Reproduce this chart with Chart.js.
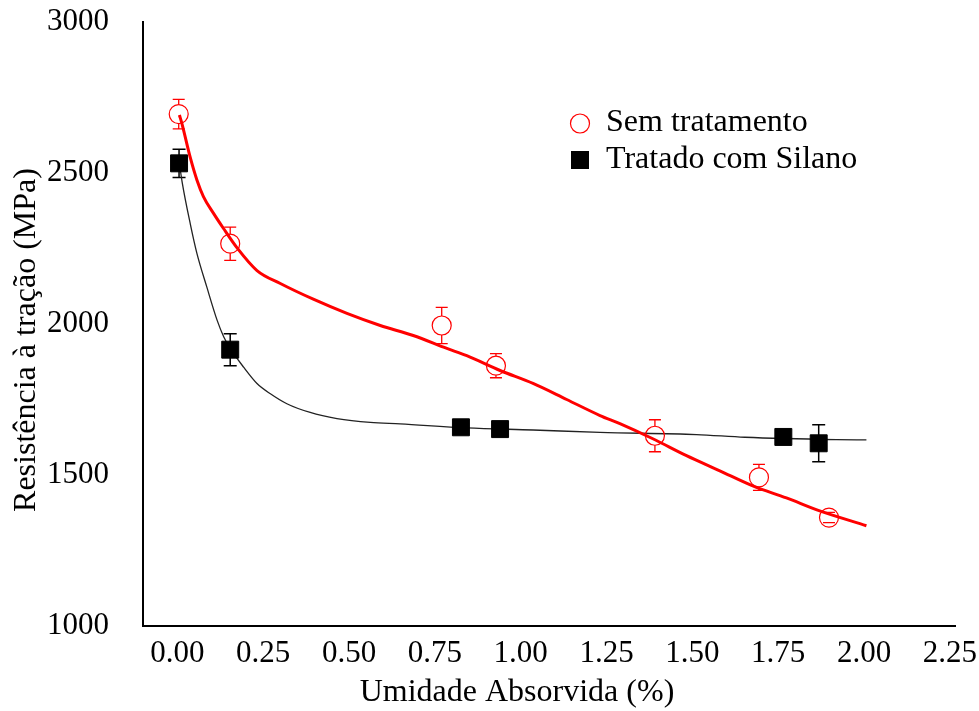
<!DOCTYPE html>
<html>
<head>
<meta charset="utf-8">
<script src="https://cdn.jsdelivr.net/npm/chart.js@4.4.1/dist/chart.umd.min.js"></script>
<style>
html,body{margin:0;padding:0;background:#fff;}
#wrap{width:979px;height:711px;}
</style>
</head>
<body>
<div id="wrap"><canvas id="c" width="979" height="711"></canvas></div>
<script>
// ---- data ----
const xTicks = [0, 0.25, 0.5, 0.75, 1.0, 1.25, 1.5, 1.75, 2.0, 2.25];
const yTicks = [1000, 1500, 2000, 2500, 3000];
const seriesNames = ['Sem tratamento', 'Tratado com Silano'];
const xTitle = 'Umidade Absorvida (%)';
const yTitle = 'Resistência à tração (MPa)';

// Sem tratamento (open red circles)
const semX   = [0.004, 0.154, 0.770, 0.928, 1.391, 1.694, 1.898];
const semY   = [2695, 2266, 1995, 1862, 1630, 1492, 1359];
const semErr = [49, 55, 60, 40, 53, 43, 17];

// Tratado com Silano (black squares)
const silX   = [0.005, 0.154, 0.826, 0.940, 1.765, 1.868];
const silY   = [2532, 1915, 1658, 1652, 1626, 1605];
const silErr = [47, 53, 15, 15, 15, 61];

// fitted trend curves
const semFitX = [0.006, 0.013, 0.037, 0.057, 0.076, 0.105, 0.134, 0.174, 0.232, 0.300, 0.396, 0.494, 0.591, 0.687, 0.785, 0.843, 0.940, 1.036, 1.134, 1.231, 1.289, 1.385, 1.483, 1.580, 1.676, 1.774, 1.871, 2.007];
const semFitY = [2692, 2665, 2554, 2477, 2422, 2367, 2317, 2252, 2177, 2134, 2082, 2035, 1995, 1962, 1919, 1895, 1846, 1803, 1750, 1697, 1670, 1620, 1564, 1514, 1464, 1424, 1381, 1332];
const silFitX = [0.006, 0.014, 0.038, 0.057, 0.086, 0.116, 0.135, 0.154, 0.193, 0.232, 0.271, 0.319, 0.387, 0.465, 0.562, 0.649, 0.843, 1.036, 1.231, 1.512, 1.653, 1.920, 2.007];
const silFitY = [2532, 2470, 2330, 2234, 2122, 2012, 1958, 1919, 1857, 1803, 1769, 1736, 1707, 1687, 1674, 1669, 1656, 1649, 1641, 1634, 1625, 1617, 1616];

// ---- chart ----
const FONT = '"Liberation Serif", "Times New Roman", serif';
const RED = '#FF0000';
const BLACK = '#000000';

const pts = (xs, ys) => xs.map((x, i) => ({x: x, y: ys[i]}));

const errorBarPlugin = {
  id: 'errorBars',
  beforeDatasetsDraw(chart, args, opts) {
    const ctx = chart.ctx;
    const xs = chart.scales.x, ys = chart.scales.y;
    opts.sets.forEach(set => {
      const ds = chart.data.datasets[set.dataset];
      ctx.save();
      ctx.strokeStyle = set.color;
      ctx.lineWidth = set.lineWidth;
      ds.data.forEach((p, i) => {
        const e = set.err[i];
        const px = xs.getPixelForValue(p.x);
        const py = ys.getPixelForValue(p.y);
        const top = ys.getPixelForValue(p.y + e);
        const bot = ys.getPixelForValue(p.y - e);
        const r = set.gap;
        ctx.beginPath();
        if (py - top > r) { ctx.moveTo(px, top); ctx.lineTo(px, py - r); }
        if (bot - py > r) { ctx.moveTo(px, py + r); ctx.lineTo(px, bot); }
        ctx.moveTo(px - set.cap / 2, top); ctx.lineTo(px + set.cap / 2, top);
        ctx.moveTo(px - set.cap / 2, bot); ctx.lineTo(px + set.cap / 2, bot);
        ctx.stroke();
      });
      ctx.restore();
    });
  }
};

const titlesPlugin = {
  id: 'axisTitles',
  afterDraw(chart) {
    const ctx = chart.ctx;
    ctx.save();
    ctx.fillStyle = BLACK;
    ctx.font = '32px ' + FONT;
    ctx.textAlign = 'center';
    ctx.textBaseline = 'middle';
    ctx.fillText(xTitle, 517, 693);
    ctx.translate(27, 340);
    ctx.rotate(-Math.PI / 2);
    ctx.fillText(yTitle, 0, 0);
    ctx.restore();
  }
};

const legendPlugin = {
  id: 'customLegend',
  afterDraw(chart) {
    const ctx = chart.ctx;
    const d0 = chart.data.datasets[0], d1 = chart.data.datasets[1];
    ctx.save();
    ctx.strokeStyle = d0.borderColor;
    ctx.lineWidth = d0.borderWidth;
    ctx.beginPath();
    ctx.arc(580, 123.5, 9.5, 0, Math.PI * 2);
    ctx.stroke();
    ctx.fillStyle = d1.backgroundColor;
    ctx.fillRect(571, 151, 18, 18);
    ctx.fillStyle = BLACK;
    ctx.font = '32px ' + FONT;
    ctx.textAlign = 'left';
    ctx.textBaseline = 'alphabetic';
    ctx.fillText(d0.label, 606, 131);
    ctx.fillText(d1.label, 606, 168);
    ctx.restore();
  }
};

new Chart(document.getElementById('c'), {
  type: 'scatter',
  data: {
    datasets: [
      {
        label: seriesNames[0],
        data: pts(semX, semY),
        pointStyle: 'circle',
        pointRadius: 9.5,
        pointHoverRadius: 9.5,
        borderColor: RED,
        backgroundColor: 'rgba(0,0,0,0)',
        borderWidth: 1.2,
        showLine: false,
        order: 0
      },
      {
        label: seriesNames[1],
        data: pts(silX, silY),
        pointStyle: 'rect',
        pointRadius: 12,
        pointHoverRadius: 12,
        borderColor: BLACK,
        backgroundColor: BLACK,
        borderWidth: 1,
        showLine: false,
        order: 0
      },
      {
        label: 'fit-sem',
        data: pts(semFitX, semFitY),
        showLine: true,
        pointRadius: 0,
        borderColor: RED,
        borderWidth: 3,
        cubicInterpolationMode: 'monotone',
        fill: false,
        order: 2
      },
      {
        label: 'fit-silano',
        data: pts(silFitX, silFitY),
        showLine: true,
        pointRadius: 0,
        borderColor: '#222222',
        borderWidth: 1.3,
        cubicInterpolationMode: 'monotone',
        fill: false,
        order: 2
      }
    ]
  },
  options: {
    responsive: false,
    animation: false,
    devicePixelRatio: 1,
    layout: {autoPadding: false, padding: {top: 22, right: 24, left: 0, bottom: 0}},
    plugins: {
      legend: {display: false},
      tooltip: {enabled: false},
      errorBars: {
        sets: [
          {dataset: 0, err: semErr, color: RED, lineWidth: 1.3, cap: 12, gap: 9.5},
          {dataset: 1, err: silErr, color: BLACK, lineWidth: 1.5, cap: 13, gap: 0}
        ]
      }
    },
    scales: {
      x: {
        type: 'linear',
        min: -0.1,
        max: 2.265,
        grid: {display: false},
        border: {display: true, color: BLACK, width: 2},
        afterBuildTicks: s => { s.ticks = xTicks.map(v => ({value: v})); },
        afterFit: s => { s.height = 85; s.paddingLeft = 0; s.paddingRight = 0; },
        ticks: {
          callback: v => Number(v).toFixed(2),
          font: {family: FONT, size: 31},
          color: BLACK,
          padding: 1,
          autoSkip: false,
          maxRotation: 0
        }
      },
      y: {
        type: 'linear',
        min: 1000,
        max: 3000,
        grid: {display: false},
        border: {display: true, color: BLACK, width: 2},
        afterBuildTicks: s => { s.ticks = yTicks.map(v => ({value: v})); },
        afterFit: s => { s.width = 143; s.paddingTop = 0; s.paddingBottom = 0; },
        ticks: {
          callback: v => String(v),
          font: {family: FONT, size: 31},
          color: BLACK,
          padding: 26
        }
      }
    }
  },
  plugins: [errorBarPlugin, titlesPlugin, legendPlugin]
});
</script>
</body>
</html>
